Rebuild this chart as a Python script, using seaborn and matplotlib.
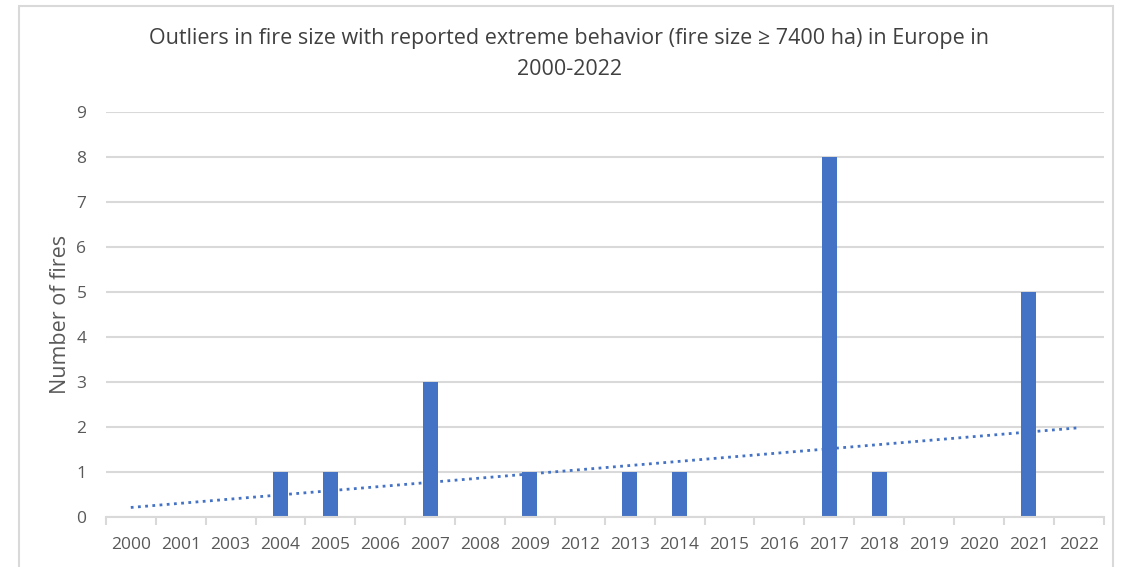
import numpy as np
import pandas as pd
import matplotlib
matplotlib.use("Agg")
import matplotlib.pyplot as plt
from matplotlib.patches import Rectangle
from matplotlib.ticker import FixedLocator
import seaborn as sns

years = ["2000", "2001", "2003", "2004", "2005", "2006", "2007", "2008", "2009", "2012",
         "2013", "2014", "2015", "2016", "2017", "2018", "2019", "2020", "2021", "2022"]
fires = [0, 0, 0, 1, 1, 0, 3, 0, 1, 0, 1, 1, 0, 0, 8, 1, 0, 0, 5, 0]
y_ticks = list(range(0, 10))

title = "Outliers in fire size with reported extreme behavior (fire size \u2265 7400 ha) in Europe in\n2000-2022"
y_label = "Number of fires"

BLUE = "#4472C4"
GRID = "#D9D9D9"
TEXT = "#595959"

sns.set_theme(style="white")
plt.rcParams["font.family"] = ["Open Sans", "DejaVu Sans"]

df = pd.DataFrame({"year": years, "fires": fires})

fig = plt.figure(figsize=(11.32, 5.67), dpi=100)
ax = fig.add_axes([0.0935, 0.088, 0.8815, 0.714])

# chart frame
fig.patches.append(Rectangle((0.017, -0.05), 0.966, 1.04, transform=fig.transFigure,
                             fill=False, edgecolor=GRID, linewidth=1.5, zorder=0))

sns.barplot(data=df, x="year", y="fires", color=BLUE, width=0.3, saturation=1,
            linewidth=0, ax=ax, zorder=3)

# linear trendline over category positions
idx = np.arange(len(years))
slope, intercept = np.polyfit(idx, fires, 1)
ax.plot(idx, slope * idx + intercept, color=BLUE, linestyle=(0, (1, 1.6)),
        linewidth=2, zorder=4)

ax.set_xlim(-0.5, len(years) - 0.5)
ax.set_ylim(0, 9)
ax.set_yticks(y_ticks)
ax.yaxis.grid(True, color=GRID, linewidth=1.5, zorder=0)
ax.set_axisbelow(True)

for side in ["top", "right", "left"]:
    ax.spines[side].set_visible(False)
ax.spines["bottom"].set_color(GRID)
ax.spines["bottom"].set_linewidth(1.5)
ax.spines["bottom"].set_zorder(5)

ax.xaxis.set_minor_locator(FixedLocator(np.arange(-0.5, len(years), 1.0)))
ax.tick_params(axis="x", which="minor", length=6, width=1.5, color=GRID, bottom=True)
ax.tick_params(axis="x", which="major", length=0, pad=14, labelsize=12.5, labelcolor=TEXT)
ax.tick_params(axis="y", length=0, pad=14, labelsize=12.5, labelcolor=TEXT)

ax.set_xlabel("")
ax.set_ylabel(y_label, fontsize=15.5, color=TEXT, labelpad=4)

fig.text(0.503, 0.905, title, ha="center", va="center", fontsize=15.5,
         color="#404040", linespacing=1.6)

fig.savefig("out.png", dpi=100, facecolor="white")
